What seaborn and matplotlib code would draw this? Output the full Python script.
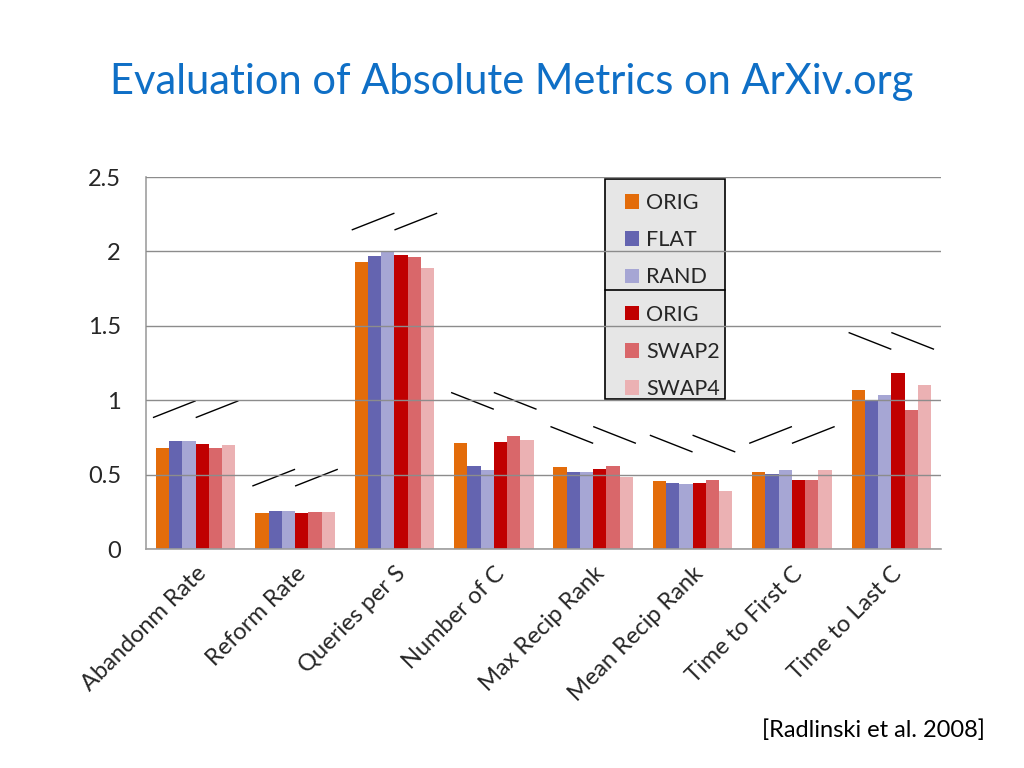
import numpy as np
import pandas as pd
import matplotlib
matplotlib.use("Agg")
import matplotlib.pyplot as plt
import seaborn as sns
from matplotlib.patches import Patch, Rectangle

# ---------------- data ----------------
categories = ["Abandonm Rate", "Reform Rate", "Queries per S", "Number of C",
              "Max Recip Rank", "Mean Recip Rank", "Time to First C", "Time to Last C"]
series_keys = ["ORIG_a", "FLAT", "RAND", "ORIG_b", "SWAP2", "SWAP4"]
series_labels = ["ORIG", "FLAT", "RAND", "ORIG", "SWAP2", "SWAP4"]
orig_a = [0.68, 0.245, 1.93, 0.71, 0.553, 0.457, 0.517, 1.07]
flat   = [0.724, 0.253, 1.967, 0.556, 0.517, 0.441, 0.502, 1.004]
rand   = [0.724, 0.256, 2.003, 0.531, 0.515, 0.439, 0.531, 1.035]
orig_b = [0.703, 0.244, 1.973, 0.719, 0.537, 0.443, 0.466, 1.185]
swap2  = [0.679, 0.246, 1.96, 0.759, 0.56, 0.464, 0.466, 0.934]
swap4  = [0.697, 0.246, 1.886, 0.733, 0.486, 0.392, 0.531, 1.10]
colors = ["#E36C0A", "#6464B0", "#A6A6D4", "#C00000", "#D9676A", "#EBB1B3"]
# expected-direction slash marks over each group (+1 up, -1 down), and their low end
slash_dir = [1, 1, 1, -1, -1, -1, 1, -1]
slash_low = [0.883, 0.423, 2.144, 0.939, 0.71, 0.652, 0.71, 1.342]
slash_rise = 0.113
yticks = [0, 0.5, 1, 1.5, 2, 2.5]
ytick_labels = ["0", "0.5", "1", "1.5", "2", "2.5"]

values = [orig_a, flat, rand, orig_b, swap2, swap4]
rows = []
for key, vals in zip(series_keys, values):
    for c, v in zip(categories, vals):
        rows.append({"metric": c, "series": key, "value": v})
df = pd.DataFrame(rows)

# ---------------- plot ----------------
sns.set_style("white")
plt.rcParams["font.family"] = ["Lato", "DejaVu Sans"]

W, H = 1024, 768
fig = plt.figure(figsize=(W/100, H/100), dpi=100)
ax_l, ax_r, ax_t, ax_b = 146, 941, 177, 549
ax = fig.add_axes([ax_l/W, 1-ax_b/H, (ax_r-ax_l)/W, (ax_b-ax_t)/H])

sns.barplot(data=df, x="metric", y="value", hue="series", order=categories,
            hue_order=series_keys, palette=colors, width=0.8, saturation=1,
            ax=ax, legend=False, linewidth=0)

ax.set_ylim(0, 2.5)
ax.set_xlim(-0.5, len(categories) - 0.5)
ax.set_yticks(yticks)
ax.set_yticklabels(ytick_labels, fontsize=17)
ax.grid(axis="y", color="#8C8C8C", linewidth=1.0)
ax.set_axisbelow(False)
ax.set_xlabel("")
ax.set_ylabel("")

for s in ["left", "bottom"]:
    ax.spines[s].set_color("#A0A0A0")
    ax.spines[s].set_linewidth(1.2)
ax.spines["top"].set_visible(False)
ax.spines["right"].set_visible(False)

ax.tick_params(axis="y", length=6, color="#A0A0A0", pad=12, width=1.2)
ax.set_xticks(range(len(categories)))
ax.set_xticklabels(categories, rotation=45, ha="right", rotation_mode="anchor",
                   fontsize=17)
ax.tick_params(axis="x", which="major", length=0, pad=10)
ax.set_xticks(np.arange(-0.5, len(categories)), minor=True)
ax.tick_params(axis="x", which="minor", length=6, color="#A0A0A0", width=1.2)

# slash marks
for i, (d, low) in enumerate(zip(slash_dir, slash_low)):
    for x0 in (i - 0.43, i):
        x1 = x0 + 0.43
        if d > 0:
            ax.plot([x0, x1], [low, low + slash_rise], color="black", lw=1.0,
                    solid_capstyle="butt", clip_on=False)
        else:
            ax.plot([x0, x1], [low + slash_rise, low], color="black", lw=1.0,
                    solid_capstyle="butt", clip_on=False)

# legend box (drawn under the gridlines) with separator between the two groups
box_l, box_r, box_t, box_b, box_sep = 605, 725, 179, 399, 290
ax.add_patch(Rectangle((box_l/W, 1-box_b/H), (box_r-box_l)/W, (box_b-box_t)/H,
                       transform=fig.transFigure, facecolor="#E6E6E6",
                       edgecolor="black", linewidth=1.2, zorder=0.2, clip_on=False))
ax.add_line(plt.Line2D([box_l/W, box_r/W], [1-box_sep/H, 1-box_sep/H],
                       transform=fig.transFigure, color="black", lw=1.2,
                       zorder=0.3, clip_on=False))

handles = [Patch(facecolor=c, edgecolor="none") for c in colors]
leg = ax.legend(handles, series_labels, frameon=False, fontsize=15.5,
                handlelength=0.66, handleheight=0.66, handletextpad=0.32,
                labelspacing=0.80, borderpad=0, borderaxespad=0,
                loc="upper left",
                bbox_to_anchor=((625-ax_l)/(ax_r-ax_l), 1 - (193-ax_t)/(ax_b-ax_t)))
leg.set_zorder(3)

fig.text(0.5, 1 - 82/H, "Evaluation of Absolute Metrics on ArXiv.org",
         ha="center", va="center", fontsize=30, color="#0F6FC6")
fig.text(985/W, 1 - 730/H, "[Radlinski et al. 2008]", ha="right",
         va="center", fontsize=17, color="black")

fig.savefig("out.png", dpi=100)
